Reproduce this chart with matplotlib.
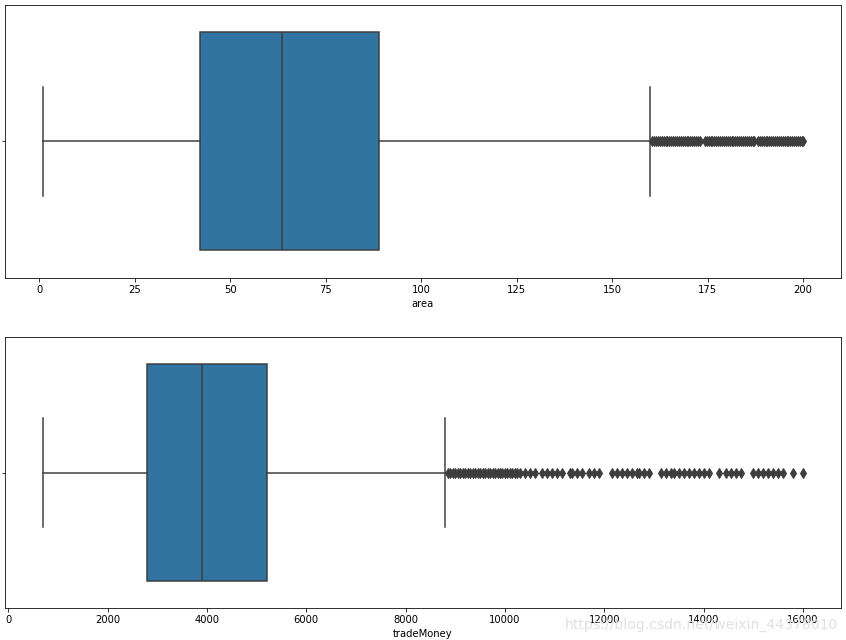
import matplotlib
matplotlib.use('Agg')
import matplotlib.pyplot as plt

# box statistics
area_stats = [1, 42, 63.5, 89, 160]  # whislo, q1, med, q3, whishi
area_fliers = [160.5, 161, 161.5, 162, 162.5, 163, 163.5, 164, 164.5, 165,
               165.5, 166, 166.5, 167, 167.5, 168, 168.5, 169, 169.5, 170,
               170.5, 171, 171.5, 172, 172.5, 173,
               174.3, 174.8, 175.3, 175.8, 176.3, 176.8, 177.3, 177.8, 178.3,
               178.8, 179.3, 179.8, 180.3, 180.8, 181.3, 181.8, 182.3, 182.8,
               183.3, 183.8, 184.3, 184.8, 185.3, 185.8, 186.3, 186.8, 187.2,
               188.2, 188.7, 189.2, 189.7, 190.2, 190.7, 191.2, 191.7, 192.2,
               192.7, 193.2, 193.7, 194.2, 194.7, 195.2, 195.7, 196.2, 196.7,
               197.2, 197.7, 198.2, 198.7, 199.2, 199.7, 200]

money_stats = [700, 2800, 3900, 5200, 8800]
money_fliers = [8850, 8900, 8950, 9000, 9050, 9100, 9150, 9200, 9250, 9300,
                9350, 9400, 9450, 9500, 9550, 9600, 9650, 9700, 9750, 9800,
                9850, 9900, 9950, 10000, 10050, 10100, 10150, 10200, 10250, 10300,
                10400, 10500, 10600, 10750, 10850, 10950, 11050, 11150, 11300, 11350,
                11450, 11550, 11700, 11800, 11900,
                12150, 12250, 12350, 12450, 12550, 12650, 12700, 12800, 12900,
                13150, 13250, 13350, 13400, 13500, 13600, 13700, 13800, 13900, 14000,
                14100, 14300,
                14450, 14550, 14650, 14750,
                15000, 15100, 15200, 15300, 15400, 15500, 15600,
                15800, 16000]

box_color = '#3274a1'
gray = '#3d3d3d'


def stats(vals, fliers):
    return [dict(whislo=vals[0], q1=vals[1], med=vals[2], q3=vals[3],
                 whishi=vals[4], fliers=fliers)]


fig = plt.figure(figsize=(846 / 72, 640 / 72), dpi=72)
ax1 = fig.add_axes([5 / 846, 0.566, 836 / 846, 0.426])
ax2 = fig.add_axes([5 / 846, 0.050, 836 / 846, 0.423])

for ax, st, fl, lab in [(ax1, area_stats, area_fliers, 'area'),
                        (ax2, money_stats, money_fliers, 'tradeMoney')]:
    ax.bxp(stats(st, fl), positions=[0], widths=0.8, orientation='horizontal',
           patch_artist=True,
           boxprops=dict(facecolor=box_color, edgecolor=gray, linewidth=1.5),
           medianprops=dict(color=gray, linewidth=1.5),
           whiskerprops=dict(color=gray, linewidth=1.5),
           capprops=dict(color=gray, linewidth=1.5),
           flierprops=dict(marker='d', markerfacecolor=gray,
                           markeredgecolor=gray, markersize=6.5))
    ax.set_ylim(0.5, -0.5)
    ax.set_yticks([0])
    ax.set_yticklabels([''])
    ax.set_xlabel(lab)
    ax.margins(x=0.05)

ax1.set_xticks([0, 25, 50, 75, 100, 125, 150, 175, 200])
ax2.set_xticks(range(0, 16001, 2000))

# blog watermark seen in the picture
fig.text(0.99, 0.013, 'https://blog.csdn.net/weixin_44378010', ha='right',
         va='bottom', fontsize=14, color='#e0e0e0')

fig.savefig('out.png', dpi=72)
